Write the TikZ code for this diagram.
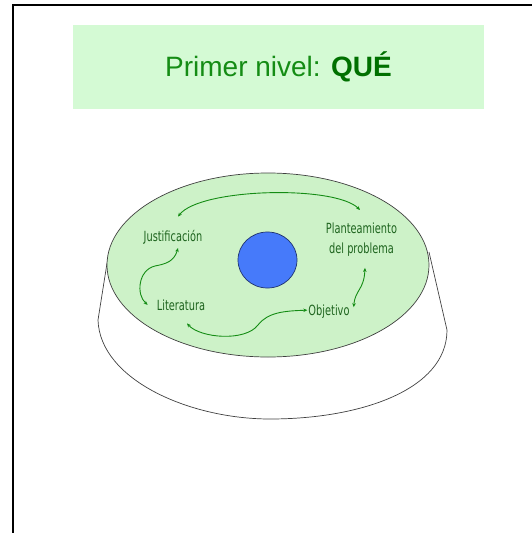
\documentclass[tikz,border=0pt]{standalone}
\usepackage{fontspec}
\setmainfont{Liberation Sans}
\newfontfamily\narrowsans[FakeStretch=0.7]{DejaVu Sans}
\usetikzlibrary{arrows.meta}

\definecolor{boxgreen}{RGB}{212,250,212}
\definecolor{topgreen}{RGB}{205,242,200}
\definecolor{titlegreen}{RGB}{20,140,20}
\definecolor{titledark}{RGB}{0,112,0}
\definecolor{labelgreen}{RGB}{30,100,30}
\definecolor{arrowgreen}{RGB}{20,140,20}
\definecolor{coreblue}{RGB}{70,122,250}
\definecolor{coreedge}{RGB}{30,50,110}

\begin{document}
\begin{tikzpicture}
  [x=1pt,y=-1pt,
   stage/.style={font=\narrowsans\fontsize{14}{20}\selectfont,text=labelgreen,inner sep=0pt},
   rimline/.style={draw=black!75,line width=0.7pt},
   cyclearrow/.style={{Stealth[length=4pt,width=3.5pt]}-{Stealth[length=4pt,width=3.5pt]},draw=arrowgreen,line width=0.9pt}]
  \useasboundingbox (0,0) rectangle (532,533);
  \draw[line width=2pt] (13,533) -- (13,5) -- (532,5);

  \node[fill=boxgreen,minimum width=411pt,minimum height=84pt,text=titlegreen,
        font=\fontsize{28}{32}\selectfont] (title) at (278.5,67)
        {Primer nivel: \textbf{\color{titledark}QUÉ}};

  % the base under the disc
  \draw[rimline] (108,257) -- (98,320) .. controls (100,380) and (190,419) .. (270,419)
    .. controls (360,419) and (447,390) .. (447,330) -- (429,252);
  \draw[rimline,fill=topgreen] (268,265) ellipse [x radius=161,y radius=92];
  \draw[fill=coreblue,draw=coreedge,line width=0.7pt] (267.5,260) ellipse [x radius=29.5,y radius=28];

  \node[stage,anchor=base] (just) at (173,241) {Justificación};
  \node[stage,anchor=base] (lit) at (181,310) {Literatura};
  \node[stage,anchor=base] (obj) at (329,315) {Objetivo};
  \node[stage,anchor=north,align=center] (plan) at (361.5,223) {Planteamiento\\del problema};

  \draw[cyclearrow] ([shift={(5,-13)}]just.north) .. controls (200,188) and (335,185) .. ([shift={(-1.5,-13)}]plan.north);
  \draw[cyclearrow] ([shift={(5,4)}]just.south) .. controls (174,262) and (165,264) .. (155,266)
    .. controls (138,270) and (136,295) .. ([shift={(-9,0)}]lit.west);
  \draw[cyclearrow] ([shift={(6,13)}]lit.south) .. controls (200,338) and (245,342) .. (258,325)
    .. controls (268,312) and (285,311) .. ([shift={(-1,-1)}]obj.west);
  \draw[cyclearrow] ([shift={(4,-4)}]obj.east) .. controls (355,290) and (364,290) .. ([shift={(3.5,11)}]plan.south);

\end{tikzpicture}
\end{document}
